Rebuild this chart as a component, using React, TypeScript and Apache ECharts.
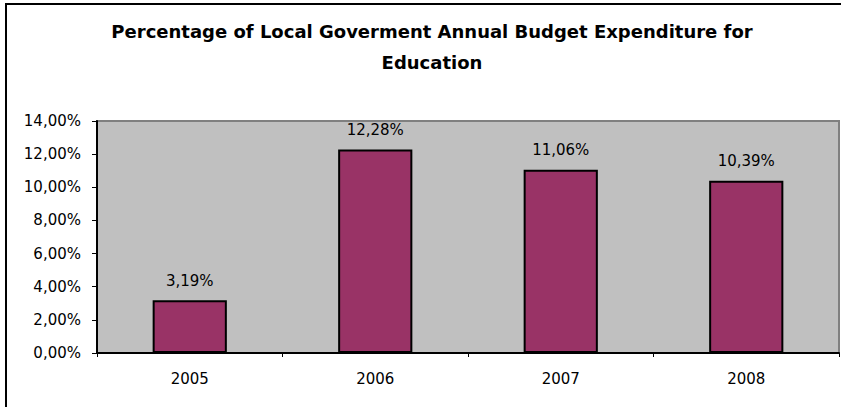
import React, { useEffect, useRef } from "react";
import * as echarts from "echarts";

const titleText = "Percentage of Local Goverment Annual Budget Expenditure for\nEducation";
const years = ["2005", "2006", "2007", "2008"];
const expenditure = [3.19, 12.28, 11.06, 10.39];
const yMin = 0;
const yMax = 14;
const yStep = 2;

const fmt = (v: number) => v.toFixed(2).replace(".", ",") + "%";
const FONT = "'DejaVu Sans', Verdana, sans-serif";

export default function App() {
  const ref = useRef<HTMLDivElement>(null);
  useEffect(() => {
    if (!ref.current) return;
    const chart = echarts.init(ref.current, null, { renderer: "svg" });
    chart.setOption({
      animation: false,
      backgroundColor: "#ffffff",
      title: {
        text: titleText,
        left: 427,
        top: 11,
        textAlign: "center",
        textStyle: {
          fontFamily: FONT,
          fontSize: 18,
          fontWeight: "bold",
          color: "#000",
          lineHeight: 31,
        },
      },
      graphic: [
        {
          type: "polyline",
          shape: { points: [[6, 420], [6, 4], [860, 4]] },
          style: { fill: "none", stroke: "#000", lineWidth: 2 },
          silent: true,
          z: 100,
        },
      ],
      grid: {
        left: 97,
        right: 2,
        top: 121,
        bottom: 54,
        show: true,
        backgroundColor: "#C0C0C0",
        borderColor: "#808080",
        borderWidth: 2,
        containLabel: false,
      },
      xAxis: {
        type: "category",
        data: years,
        axisLine: { show: true, lineStyle: { color: "#000", width: 2 } },
        axisTick: { show: true, length: 4, lineStyle: { color: "#000" } },
        axisLabel: {
          margin: 18,
          fontFamily: FONT,
          fontSize: 15,
          color: "#000",
        },
        splitLine: { show: false },
      },
      yAxis: {
        type: "value",
        min: yMin,
        max: yMax,
        interval: yStep,
        axisLine: { show: true, lineStyle: { color: "#000", width: 2 } },
        axisTick: { show: true, length: 5, lineStyle: { color: "#000" } },
        axisLabel: {
          margin: 16,
          fontFamily: FONT,
          fontSize: 15,
          color: "#000",
          formatter: (v: number) => fmt(v),
        },
        splitLine: { show: false },
      },
      series: [
        {
          type: "bar",
          data: expenditure,
          barWidth: "40%",
          itemStyle: { color: "#993366", borderColor: "#000", borderWidth: 2 },
          label: {
            show: true,
            position: "top",
            distance: 12,
            fontFamily: FONT,
            fontSize: 15,
            color: "#000",
            formatter: (p: any) => fmt(p.value),
          },
        },
      ],
    });
    return () => chart.dispose();
  }, []);
  return (
    <div
      ref={ref}
      style={{ position: "absolute", left: 0, top: 0, width: 841, height: 407 }}
    />
  );
}
